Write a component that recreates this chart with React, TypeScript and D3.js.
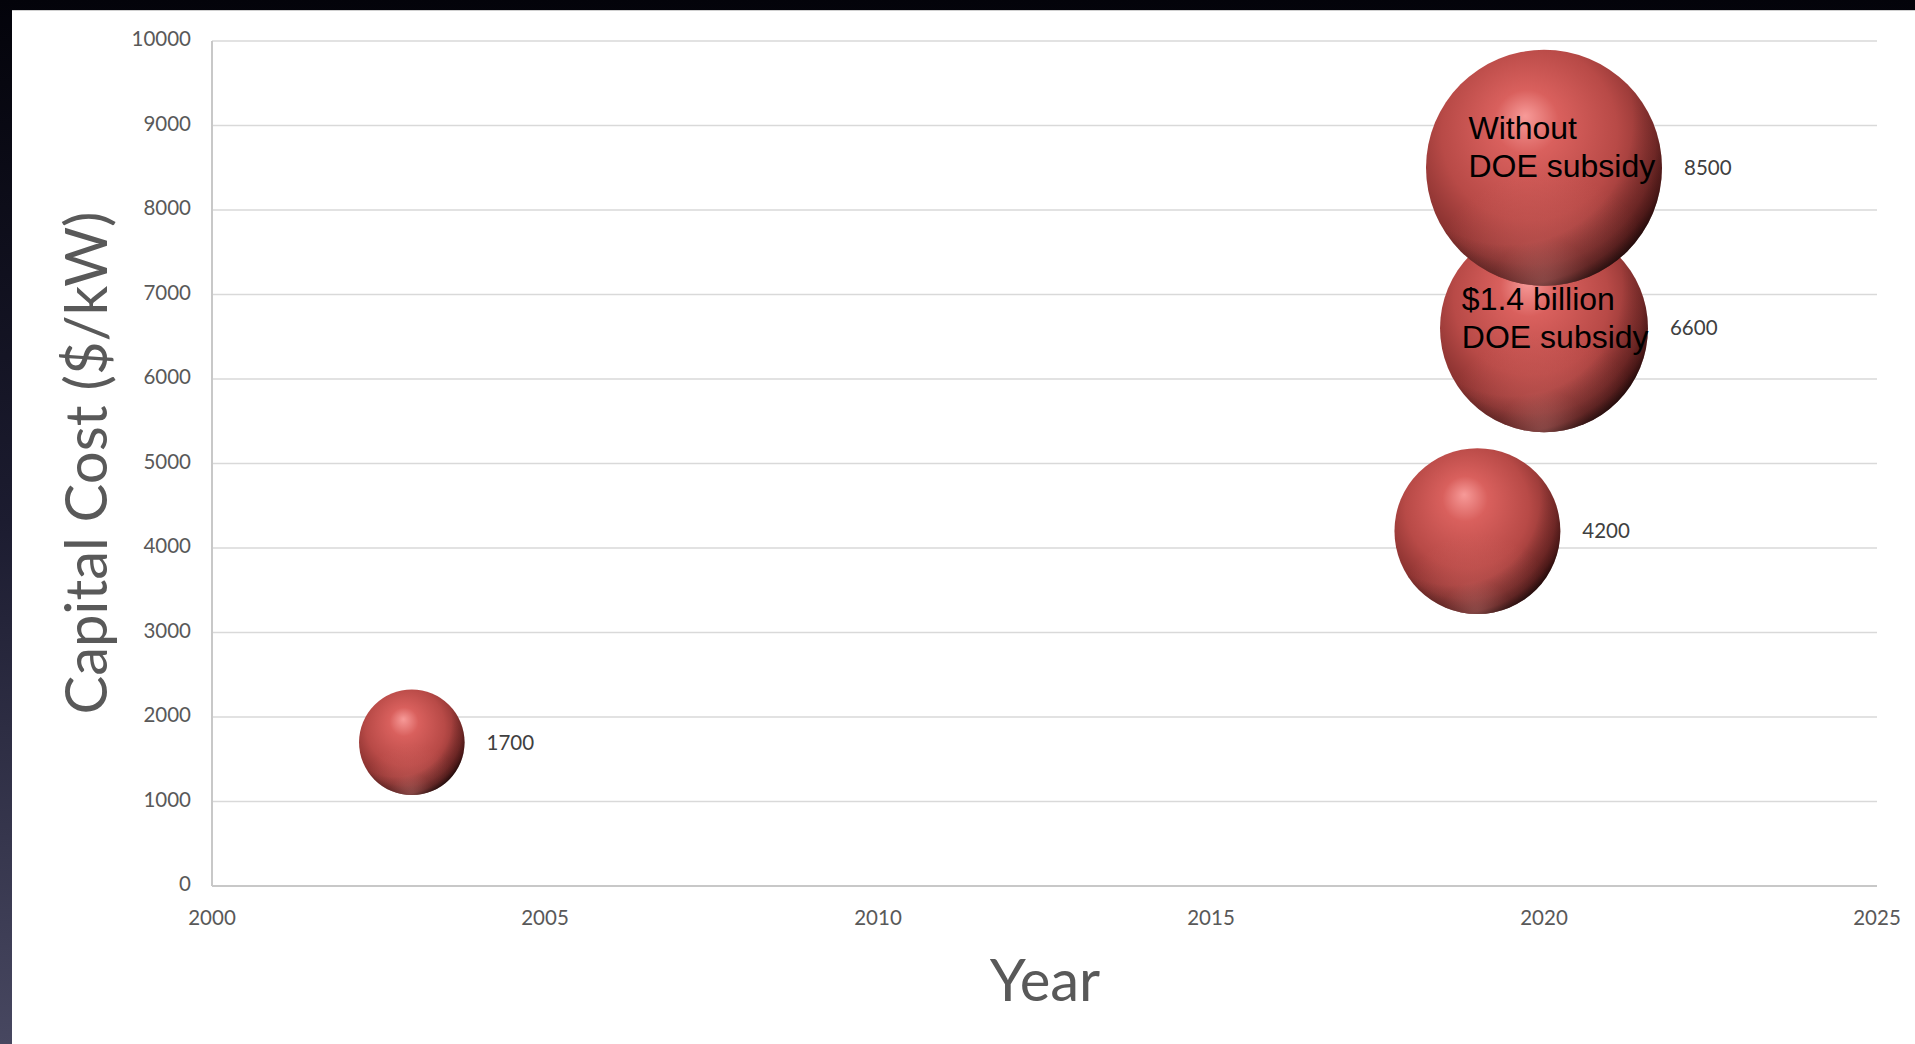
import React from "react";
import * as d3 from "d3";

// data
const years = [2003, 2019, 2020, 2020];
const costs = [1700, 4200, 6600, 8500];
const notes = [[], [], ["$1.4 billion", "DOE subsidy"], ["Without", "DOE subsidy"]];
const xTickValues = [2000, 2005, 2010, 2015, 2020, 2025];
const yTickValues = [0, 1000, 2000, 3000, 4000, 5000, 6000, 7000, 8000, 9000, 10000];

// where the note text sits inside its bubble (fraction of radius)
const noteOffsets = [
  { dx: 0, dy: 0 },
  { dx: 0, dy: 0 },
  { dx: -0.79, dy: -0.18 },
  { dx: -0.64, dy: -0.24 },
];

const App: React.FC = () => {
  const width = 1915;
  const height = 1044;
  const margin = { top: 41, right: 38, bottom: 158, left: 212 };

  const x = d3
    .scaleLinear()
    .domain([2000, 2025])
    .range([margin.left, width - margin.right]);

  const y = d3
    .scaleLinear()
    .domain([0, 10000])
    .range([height - margin.bottom, margin.top]);

  // bubble area follows the cost value
  const r = d3.scaleSqrt().domain([0, 8500]).range([0, 118]);

  const labelFont = "Lato, 'Open Sans', sans-serif";

  return (
    <svg
      width={width}
      height={height}
      style={{ position: "absolute", left: 0, top: 0, display: "block" }}
    >
      <defs>
        <linearGradient id="bg" x1="0" y1="0" x2="0" y2="1">
          <stop offset="0" stopColor="#03030a" />
          <stop offset="0.5" stopColor="#1c1c30" />
          <stop offset="1" stopColor="#474760" />
        </linearGradient>
        <radialGradient id="ball" cx="0.45" cy="0.4" r="0.62" fx="0.42" fy="0.28">
          <stop offset="0" stopColor="#f79a98" />
          <stop offset="0.22" stopColor="#d9605d" />
          <stop offset="0.6" stopColor="#b84a47" />
          <stop offset="0.85" stopColor="#8a3230" />
          <stop offset="1" stopColor="#3d1212" />
        </radialGradient>
        <radialGradient id="rim" cx="0.5" cy="1.02" r="0.5">
          <stop offset="0" stopColor="#f08c88" stopOpacity="0.8" />
          <stop offset="0.45" stopColor="#d86a66" stopOpacity="0.3" />
          <stop offset="1" stopColor="#d86a66" stopOpacity="0" />
        </radialGradient>
        <radialGradient id="shade" cx="0.35" cy="0.3" r="0.75">
          <stop offset="0.7" stopColor="#000" stopOpacity="0" />
          <stop offset="0.93" stopColor="#1a0505" stopOpacity="0.35" />
          <stop offset="1" stopColor="#000" stopOpacity="0.6" />
        </radialGradient>
      </defs>

      <rect x={0} y={0} width={width} height={height} fill="url(#bg)" />
      <rect x={12} y={10} width={width - 12} height={height - 10} fill="#ffffff" />
      <line x1={12} x2={width} y1={10.5} y2={10.5} stroke="#d0d0d0" />

      {/* Gridlines + Y Axis */}
      {yTickValues.map((t) => (
        <g key={t}>
          {t > 0 && (
            <line
              x1={margin.left}
              x2={width - margin.right}
              y1={y(t)}
              y2={y(t)}
              stroke="#d9d9d9"
              strokeWidth={1.5}
            />
          )}
          <text
            x={margin.left - 21}
            y={y(t)}
            textAnchor="end"
            dominantBaseline="middle"
            fontFamily={labelFont}
            fontSize={20.5}
            fill="#595959"
          >
            {t}
          </text>
        </g>
      ))}

      {/* axis lines */}
      <line
        x1={margin.left}
        x2={margin.left}
        y1={margin.top}
        y2={y(0)}
        stroke="#c8c8c8"
        strokeWidth={2}
      />
      <line
        x1={margin.left}
        x2={width - margin.right}
        y1={y(0)}
        y2={y(0)}
        stroke="#c8c8c8"
        strokeWidth={2}
      />

      {/* X Axis */}
      {xTickValues.map((t) => (
        <text
          key={t}
          x={x(t)}
          y={y(0) + 34}
          textAnchor="middle"
          dominantBaseline="middle"
          fontFamily={labelFont}
          fontSize={20.5}
          fill="#595959"
        >
          {t}
        </text>
      ))}

      {/* Axis titles */}
      <text
        x={1045}
        y={986}
        textAnchor="middle"
        dominantBaseline="middle"
        fontFamily={labelFont}
        fontSize={58}
        fill="#595959"
      >
        Year
      </text>
      <text
        transform={`translate(92,463) rotate(-90)`}
        textAnchor="middle"
        dominantBaseline="middle"
        fontFamily={labelFont}
        fontSize={58}
        fill="#595959"
      >
        Capital Cost ($/kW)
      </text>

      {/* Bubbles */}
      {costs.map((c, i) => {
        const cx = x(years[i]);
        const cy = y(c);
        const rad = r(c);
        return (
          <g key={i}>
            <circle cx={cx} cy={cy} r={rad} fill="url(#ball)" />
            <circle cx={cx} cy={cy} r={rad} fill="url(#rim)" />
            <circle cx={cx} cy={cy} r={rad} fill="url(#shade)" />
            {notes[i].map((line, j) => (
              <text
                key={j}
                x={cx + rad * noteOffsets[i].dx}
                y={cy + rad * noteOffsets[i].dy + j * 38}
                fontFamily="'Liberation Sans', Arial, sans-serif"
                fontSize={32}
                fill="#000000"
              >
                {line}
              </text>
            ))}
            <text
              x={cx + rad + 22}
              y={cy + 2}
              dominantBaseline="middle"
              fontFamily={labelFont}
              fontSize={20.5}
              fill="#404040"
            >
              {c}
            </text>
          </g>
        );
      })}
    </svg>
  );
};

export default App;
